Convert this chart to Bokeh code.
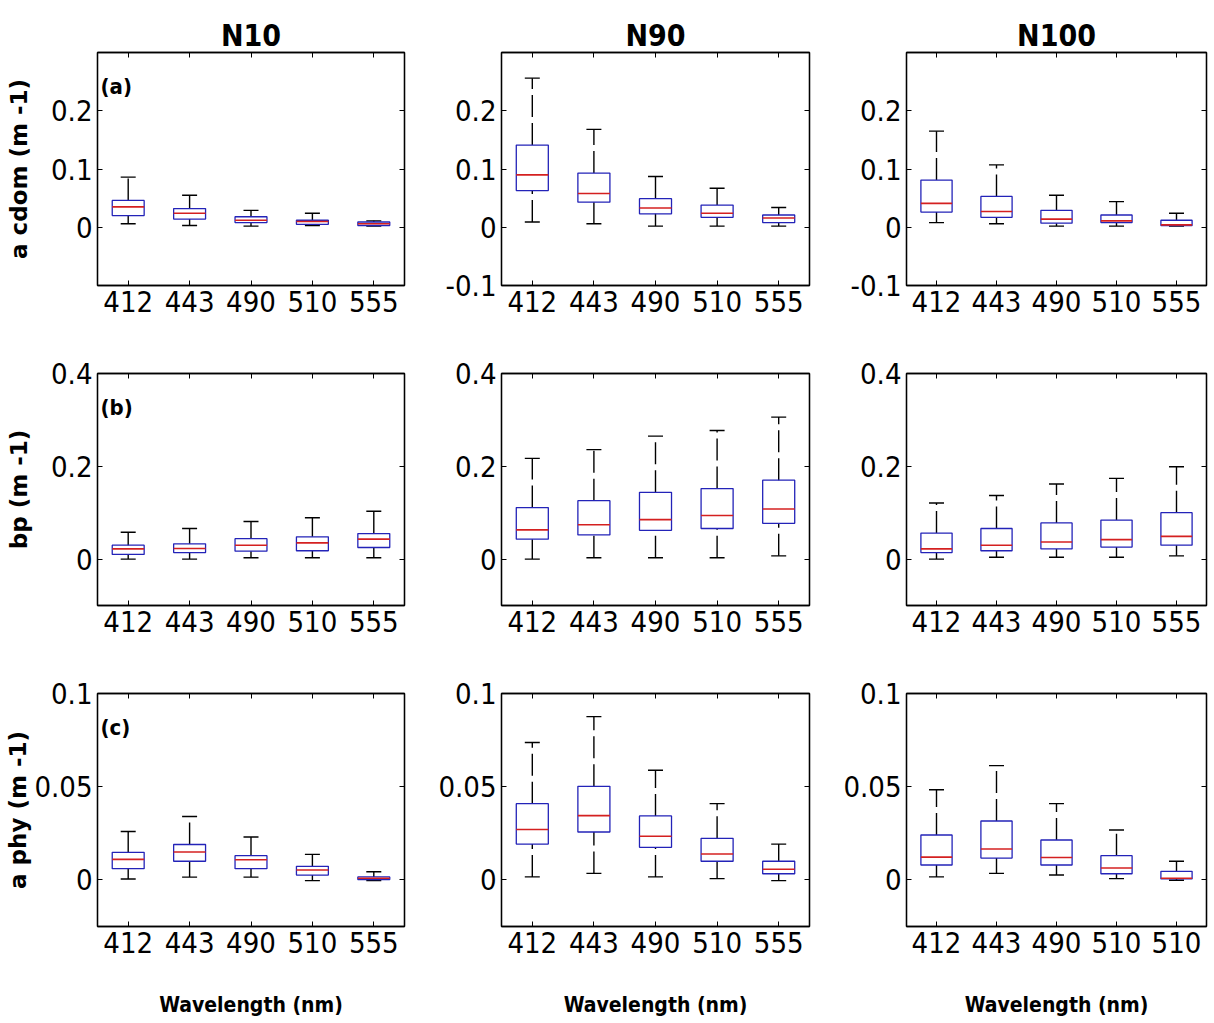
from bokeh.plotting import figure
from bokeh.layouts import column, row
from bokeh.models import (ColumnDataSource, FixedTicker, LinearAxis, Range1d,
                          Whisker, TeeHead, Label)
from bokeh.transform import dodge
from bokeh.embed import file_html
from bokeh.resources import INLINE

# ---------------- data ----------------
positions = [1, 2, 3, 4, 5]
wl_labels = ["412", "443", "490", "510", "555"]
wl_labels_n100_aphy = ["412", "443", "490", "510", "510"]
stations = ["N10", "N90", "N100"]
row_ylabels = ["a cdom (m -1)", "bp (m -1)", "a phy (m -1)"]
row_tags = ["(a)", "(b)", "(c)"]

# (a) a_cdom
acdom_n10_low = [0.006, 0.003, 0.002, 0.003, 0.002]
acdom_n10_q1 = [0.020, 0.014, 0.008, 0.005, 0.003]
acdom_n10_med = [0.035, 0.024, 0.012, 0.010, 0.006]
acdom_n10_q3 = [0.046, 0.032, 0.018, 0.012, 0.009]
acdom_n10_high = [0.086, 0.055, 0.029, 0.024, 0.011]

acdom_n90_low = [0.009, 0.006, 0.002, 0.002, 0.002]
acdom_n90_q1 = [0.063, 0.043, 0.023, 0.017, 0.008]
acdom_n90_med = [0.090, 0.058, 0.033, 0.024, 0.016]
acdom_n90_q3 = [0.141, 0.093, 0.049, 0.038, 0.021]
acdom_n90_high = [0.256, 0.168, 0.087, 0.067, 0.034]

acdom_n100_low = [0.008, 0.006, 0.002, 0.002, 0.002]
acdom_n100_q1 = [0.026, 0.017, 0.007, 0.008, 0.003]
acdom_n100_med = [0.041, 0.027, 0.014, 0.011, 0.004]
acdom_n100_q3 = [0.081, 0.053, 0.029, 0.021, 0.012]
acdom_n100_high = [0.165, 0.107, 0.055, 0.044, 0.024]

# (b) bp
bp_n10_low = [0.000, 0.000, 0.003, 0.003, 0.003]
bp_n10_q1 = [0.010, 0.014, 0.017, 0.018, 0.025]
bp_n10_med = [0.022, 0.023, 0.030, 0.035, 0.043]
bp_n10_q3 = [0.030, 0.033, 0.044, 0.048, 0.055]
bp_n10_high = [0.058, 0.066, 0.081, 0.089, 0.103]

bp_n90_low = [0.000, 0.003, 0.003, 0.003, 0.007]
bp_n90_q1 = [0.043, 0.052, 0.062, 0.066, 0.077]
bp_n90_med = [0.063, 0.074, 0.085, 0.094, 0.108]
bp_n90_q3 = [0.111, 0.126, 0.144, 0.152, 0.170]
bp_n90_high = [0.217, 0.236, 0.265, 0.277, 0.306]

bp_n100_low = [0.000, 0.004, 0.004, 0.004, 0.007]
bp_n100_q1 = [0.014, 0.018, 0.022, 0.026, 0.030]
bp_n100_med = [0.022, 0.030, 0.037, 0.042, 0.049]
bp_n100_q3 = [0.056, 0.066, 0.078, 0.084, 0.100]
bp_n100_high = [0.121, 0.137, 0.162, 0.174, 0.199]

# (c) a_phy
aphy_n10_low = [0.0005, 0.0015, 0.0015, -0.0004, -0.0004]
aphy_n10_q1 = [0.0060, 0.0100, 0.0060, 0.0026, 0.0002]
aphy_n10_med = [0.0110, 0.0150, 0.0108, 0.0053, 0.0009]
aphy_n10_q3 = [0.0148, 0.0190, 0.0130, 0.0073, 0.0016]
aphy_n10_high = [0.0260, 0.0340, 0.0230, 0.0137, 0.0044]

aphy_n90_low = [0.0016, 0.0035, 0.0016, 0.0007, -0.0004]
aphy_n90_q1 = [0.0192, 0.0257, 0.0175, 0.0100, 0.0033]
aphy_n90_med = [0.0270, 0.0345, 0.0234, 0.0139, 0.0057]
aphy_n90_q3 = [0.0409, 0.0502, 0.0343, 0.0223, 0.0100]
aphy_n90_high = [0.0737, 0.0876, 0.0588, 0.0409, 0.0192]

aphy_n100_low = [0.0016, 0.0035, 0.0026, 0.0007, -0.0002]
aphy_n100_q1 = [0.0080, 0.0117, 0.0080, 0.0033, 0.0005]
aphy_n100_med = [0.0122, 0.0166, 0.0120, 0.0064, 0.0009]
aphy_n100_q3 = [0.0241, 0.0316, 0.0214, 0.0130, 0.0046]
aphy_n100_high = [0.0484, 0.0613, 0.0409, 0.0268, 0.0100]

# axis ranges / ticks per row
row_yranges = [(-0.1, 0.3), (-0.1, 0.4), (-0.025, 0.1)]
yticks_a_first = [0, 0.1, 0.2]
yticks_a_other = [-0.1, 0, 0.1, 0.2]
yticks_b = [0, 0.2, 0.4]
yticks_c = [0, 0.05, 0.1]

panel_stats = [
    [(acdom_n10_low, acdom_n10_q1, acdom_n10_med, acdom_n10_q3, acdom_n10_high),
     (acdom_n90_low, acdom_n90_q1, acdom_n90_med, acdom_n90_q3, acdom_n90_high),
     (acdom_n100_low, acdom_n100_q1, acdom_n100_med, acdom_n100_q3, acdom_n100_high)],
    [(bp_n10_low, bp_n10_q1, bp_n10_med, bp_n10_q3, bp_n10_high),
     (bp_n90_low, bp_n90_q1, bp_n90_med, bp_n90_q3, bp_n90_high),
     (bp_n100_low, bp_n100_q1, bp_n100_med, bp_n100_q3, bp_n100_high)],
    [(aphy_n10_low, aphy_n10_q1, aphy_n10_med, aphy_n10_q3, aphy_n10_high),
     (aphy_n90_low, aphy_n90_q1, aphy_n90_med, aphy_n90_q3, aphy_n90_high),
     (aphy_n100_low, aphy_n100_q1, aphy_n100_med, aphy_n100_q3, aphy_n100_high)],
]
panel_yticks = [
    [yticks_a_first, yticks_a_other, yticks_a_other],
    [yticks_b, yticks_b, yticks_b],
    [yticks_c, yticks_c, yticks_c],
]
panel_xlabels = [
    [wl_labels, wl_labels, wl_labels],
    [wl_labels, wl_labels, wl_labels],
    [wl_labels, wl_labels, wl_labels_n100_aphy],
]

# ---------------- style / layout ----------------
COND = "DejaVu Sans Condensed"
BLUE = "#2323b8"
RED = "#d42020"
BLACK = "#000000"

FW = [307, 308, 300]
BL = [97, 66, 66]
BR = [31, 31, 6]
FH = [233, 232, 233]
BT = [52, 38, 40]
BB = [50, 48, 92]
YLAB_STANDOFF = [16, 16, 0]


def fmt(v):
    if v == 0:
        return "0"
    return ("%g" % v)


def make_panel(r, c):
    low, q1, med, q3, high = panel_stats[r][c]
    src = ColumnDataSource(dict(x=positions, low=low, q1=q1, med=med, q3=q3, high=high))
    y0, y1 = row_yranges[r]
    p = figure(frame_width=FW[c], frame_height=FH[r],
               x_range=Range1d(0.5, 5.5), y_range=Range1d(y0, y1),
               output_backend="svg", toolbar_location=None,
               min_border_left=BL[c], min_border_right=BR[c],
               min_border_top=BT[r], min_border_bottom=BB[r])
    p.grid.visible = False
    p.outline_line_color = BLACK
    p.outline_line_width = 1.3
    p.background_fill_color = "white"
    p.border_fill_color = "white"

    yt = panel_yticks[r][c]
    xl = panel_xlabels[r][c]

    xa = p.xaxis[0]
    xa.ticker = FixedTicker(ticks=positions)
    xa.major_label_overrides = {pos: lab for pos, lab in zip(positions, xl)}
    ya = p.yaxis[0]
    ya.ticker = FixedTicker(ticks=yt)
    ya.major_label_overrides = {v: fmt(v) for v in yt}

    for ax in (xa, ya):
        ax.major_label_text_font = COND
        ax.major_label_text_font_size = "29px"
        ax.major_label_text_color = BLACK
        ax.major_tick_in = 5
        ax.major_tick_out = 0
        ax.minor_tick_line_color = None
        ax.axis_line_color = BLACK
        ax.axis_line_width = 1.3
        ax.major_tick_line_color = BLACK
        ax.major_label_standoff = 5

    # mirrored inward ticks on top and right (no labels)
    top = LinearAxis(ticker=FixedTicker(ticks=positions), major_label_text_color=None,
                     major_label_text_font_size="8px",
                     major_tick_in=5, major_tick_out=0, minor_tick_line_color=None,
                     major_label_standoff=0, axis_line_color=BLACK, axis_line_width=1.3)
    p.add_layout(top, "above")
    right = LinearAxis(ticker=FixedTicker(ticks=yt), major_label_text_color=None,
                       major_label_text_font_size="8px",
                       major_tick_in=5, major_tick_out=0, minor_tick_line_color=None,
                       major_label_standoff=0, axis_line_color=BLACK, axis_line_width=1.3)
    p.add_layout(right, "right")

    if r == 0:
        p.title.text = stations[c]
        p.title.align = "center"
        p.title.text_font = COND
        p.title.text_font_size = "30px"
        p.title.text_font_style = "bold"
        p.title.text_color = BLACK
        p.title.standoff = 0
    if c == 0:
        ya.axis_label = row_ylabels[r]
        ya.axis_label_text_font = "DejaVu Sans"
        ya.axis_label_text_font_size = "23px"
        ya.axis_label_text_font_style = "bold"
        ya.axis_label_text_color = BLACK
        ya.axis_label_standoff = YLAB_STANDOFF[r]
        p.add_layout(Label(x=p.x_range.start, y=p.y_range.end, x_offset=3, y_offset=-21,
                           text=row_tags[r], text_baseline="top", text_font=COND,
                           text_font_size="22px", text_font_style="bold", text_color=BLACK))
    if r == 2:
        xa.axis_label = "Wavelength (nm)"
        xa.axis_label_text_font = COND
        xa.axis_label_text_font_size = "21px"
        xa.axis_label_text_font_style = "bold"
        xa.axis_label_text_color = BLACK
        xa.axis_label_standoff = 37

    # whiskers with caps
    p.add_layout(Whisker(source=src, base="x", upper="high", lower="q3", dimension="height",
                         line_color=BLACK, line_width=1.4, line_dash="22 6",
                         upper_head=TeeHead(size=15, line_color=BLACK, line_width=1.4),
                         lower_head=None))
    p.add_layout(Whisker(source=src, base="x", upper="q1", lower="low", dimension="height",
                         line_color=BLACK, line_width=1.4, line_dash="22 6",
                         upper_head=None,
                         lower_head=TeeHead(size=15, line_color=BLACK, line_width=1.4)))
    # boxes
    p.vbar(x="x", width=0.52, top="q3", bottom="q1", source=src,
           fill_color=None, line_color=BLUE, line_width=1.3)
    # medians
    p.segment(x0=dodge("x", -0.26), x1=dodge("x", 0.26), y0="med", y1="med", source=src,
              line_color=RED, line_width=1.6)
    return p


rows = []
for r in range(3):
    rows.append(row(*[make_panel(r, c) for c in range(3)], spacing=0))
layout = column(*rows, spacing=0)

open("out.html", "w").write(file_html(layout, INLINE))
